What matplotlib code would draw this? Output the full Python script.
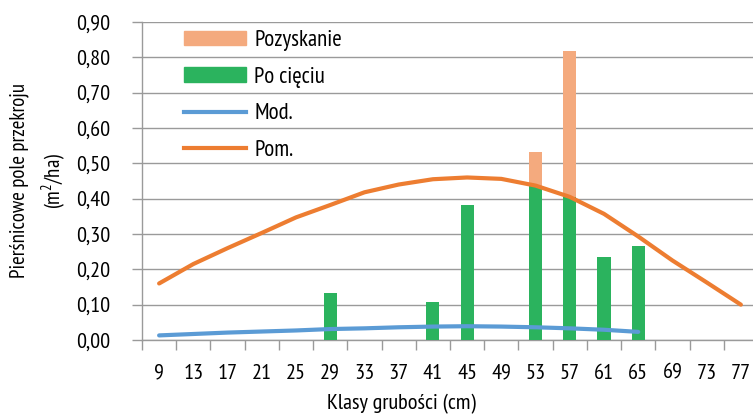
import matplotlib
matplotlib.use("Agg")
import matplotlib.pyplot as plt
import numpy as np
from matplotlib.lines import Line2D
from matplotlib.patches import Patch
from matplotlib import font_manager

_avail = set(f.name for f in font_manager.fontManager.ttflist)
_cands = ["Myriad Pro", "PT Sans Narrow", "Fira Sans Condensed", "Encode Sans Condensed",
          "Roboto Condensed", "Open Sans Condensed", "Archivo Narrow", "Liberation Sans Narrow",
          "IBM Plex Sans Condensed", "Barlow Semi Condensed"]
_font = next((c for c in _cands if c in _avail), "DejaVu Sans")
plt.rcParams['font.family'] = [_font, 'DejaVu Sans']
plt.rcParams['mathtext.fontset'] = 'custom'
plt.rcParams['mathtext.rm'] = _font

categories = ["9", "13", "17", "21", "25", "29", "33", "37", "41", "45", "49", "53", "57", "61", "65", "69", "73", "77"]
po_cieciu = [0, 0, 0, 0, 0, 0.133, 0, 0, 0.107, 0.382, 0, 0.437, 0.406, 0.235, 0.265, 0, 0, 0]
pozyskanie_total = [0, 0, 0, 0, 0, 0, 0, 0, 0, 0, 0, 0.531, 0.818, 0, 0, 0, 0, 0]
mod = [0.013, 0.017, 0.021, 0.024, 0.027, 0.031, 0.033, 0.036, 0.038, 0.039, 0.038, 0.036, 0.033, 0.029, 0.023]
pom = [0.160, 0.215, 0.260, 0.303, 0.347, 0.382, 0.418, 0.440, 0.455, 0.460, 0.456, 0.437, 0.405, 0.357, 0.293, 0.225, 0.163, 0.100]
yticks = [0.0, 0.1, 0.2, 0.3, 0.4, 0.5, 0.6, 0.7, 0.8, 0.9]

C_POZ = "#F4AA7E"
C_GREEN = "#2BB35E"
C_BLUE = "#5B9BD5"
C_ORANGE = "#ED7D31"
GRID = "#9a9a9a"

fig = plt.figure(figsize=(7.53, 4.17), dpi=100)
ax = fig.add_axes([142/753, 1-340/417, 616/753, 318/417])

x = np.arange(len(categories))
w = 0.38
ax.bar(x, pozyskanie_total, width=w, color=C_POZ, zorder=2)
ax.bar(x, po_cieciu, width=w, color=C_GREEN, zorder=3)
ax.plot(x[:len(mod)], mod, color=C_BLUE, lw=3, solid_capstyle='round', solid_joinstyle='round', zorder=4)
ax.plot(x, pom, color=C_ORANGE, lw=3, solid_capstyle='round', solid_joinstyle='round', zorder=4)

ax.set_xlim(-0.5, len(categories)-0.5)
ax.set_ylim(0, 0.9)
ax.set_yticks(yticks)
ax.set_yticklabels([f"{v:.2f}".replace('.', ',') for v in yticks])
ax.set_xticks(x)
ax.set_xticklabels(categories)
ax.set_xticks(np.arange(-0.5, len(categories), 1), minor=True)
ax.tick_params(axis='x', which='major', length=0, pad=17, labelsize=16)
ax.tick_params(axis='x', which='minor', length=7, color=GRID, width=1)
ax.tick_params(axis='y', length=7, color=GRID, width=1, pad=16, labelsize=16)

ax.grid(axis='y', color=GRID, lw=1, zorder=0)
ax.set_axisbelow(True)
for s in ['top', 'right']:
    ax.spines[s].set_visible(False)
for s in ['left', 'bottom']:
    ax.spines[s].set_color(GRID)
    ax.spines[s].set_linewidth(1)

ax.set_xlabel("Klasy grubości (cm)", fontsize=16)
ax.xaxis.set_label_coords((401-142)/616, -(394-340)/318)
ax.set_ylabel("Pierśnicowe pole przekroju\n(m$^{2}$/ha)", fontsize=15, linespacing=1.5)
ax.yaxis.set_label_coords(-(142-68)/616, 0.5)

handles = [Patch(color=C_POZ), Patch(color=C_GREEN),
           Line2D([0], [0], color=C_BLUE, lw=3), Line2D([0], [0], color=C_ORANGE, lw=3)]
labels = ["Pozyskanie", "Po cięciu", "Mod.", "Pom."]
ax.legend(handles, labels, loc='upper left', bbox_to_anchor=((175-142)/616, 1+1/318),
          frameon=False, fontsize=16.5, handlelength=2.7, handleheight=0.61,
          labelspacing=0.68, handletextpad=0.35, borderaxespad=0)

fig.savefig("out.png", dpi=100)
